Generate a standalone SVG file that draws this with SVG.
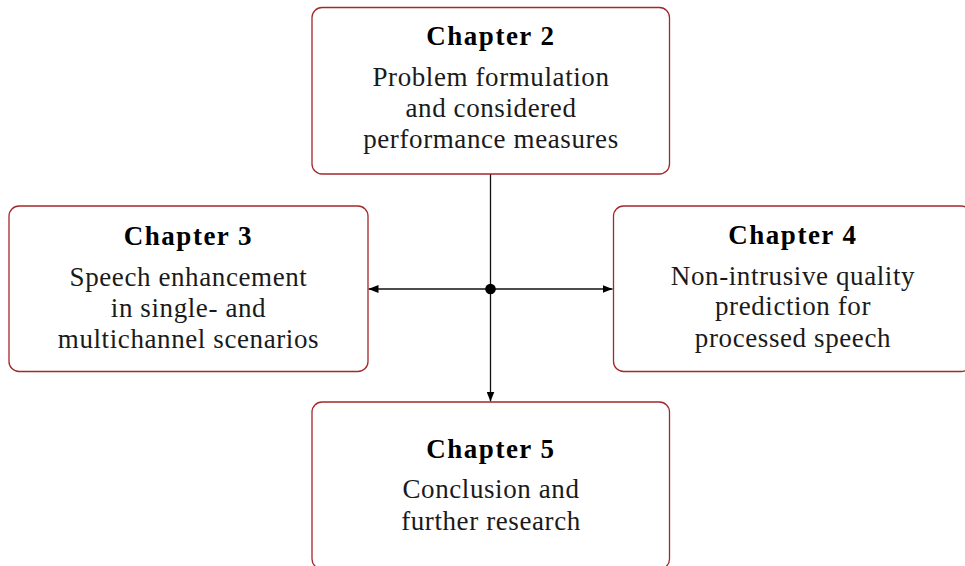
<svg xmlns="http://www.w3.org/2000/svg" width="965" height="566" viewBox="0 0 965 566">
  <style>
    .box { fill: #ffffff; stroke: #a3282b; stroke-width: 1.3; }
    .head { font-family: "Liberation Serif", "Times New Roman", serif; font-weight: bold; font-size: 27px; letter-spacing: 1.5px; fill: #000; text-anchor: middle; }
    .body { font-family: "Liberation Serif", "Times New Roman", serif; font-size: 27px; letter-spacing: 0.6px; fill: #1a1a1a; text-anchor: middle; }
    .line { stroke: #111; stroke-width: 1.3; fill: none; }
    .link { marker-end: url(#tip); }
  </style>
  <defs>
    <marker id="tip" viewBox="0 0 10 8" refX="10" refY="4" markerWidth="10" markerHeight="8" markerUnits="userSpaceOnUse" orient="auto">
      <path d="M0,0 L10,4 L0,8 Z" fill="#000"/>
    </marker>
  </defs>

  <rect width="965" height="566" fill="#ffffff"/>

  <!-- connectors: trunk from chapter 2 branching to chapters 3, 4 and 5 -->
  <g id="connectors">
    <line class="line" x1="490.5" y1="174" x2="490.5" y2="289"/>
    <line class="line link" x1="490.5" y1="289" x2="368.5" y2="289"/>
    <line class="line link" x1="490.5" y1="289" x2="612.5" y2="289"/>
    <line class="line link" x1="490.5" y1="289" x2="490.5" y2="401.5"/>
    <circle cx="490.5" cy="289" r="5.3" fill="#000"/>
  </g>

  <g id="chapter2">
    <rect class="box" x="312" y="7.5" width="357.5" height="166.5" rx="10"/>
    <text class="head" x="491" y="45">Chapter 2</text>
    <text class="body" x="491" y="86">Problem formulation</text>
    <text class="body" x="491" y="117">and considered</text>
    <text class="body" x="491" y="148">performance measures</text>
  </g>

  <g id="chapter3">
    <rect class="box" x="9" y="206" width="359" height="165.5" rx="10"/>
    <text class="head" x="188.5" y="245">Chapter 3</text>
    <text class="body" x="188.5" y="286">Speech enhancement</text>
    <text class="body" x="188.5" y="317">in single- and</text>
    <text class="body" x="188.5" y="348">multichannel scenarios</text>
  </g>

  <g id="chapter4">
    <rect class="box" x="613.5" y="206" width="357.5" height="165.5" rx="10"/>
    <text class="head" x="793" y="243.5">Chapter 4</text>
    <text class="body" x="793" y="284.5">Non-intrusive quality</text>
    <text class="body" x="793" y="315">prediction for</text>
    <text class="body" x="793" y="346.5">processed speech</text>
  </g>

  <g id="chapter5">
    <rect class="box" x="312" y="402" width="357.5" height="167" rx="10"/>
    <text class="head" x="491" y="458">Chapter 5</text>
    <text class="body" x="491" y="498">Conclusion and</text>
    <text class="body" x="491" y="530">further research</text>
  </g>
</svg>
